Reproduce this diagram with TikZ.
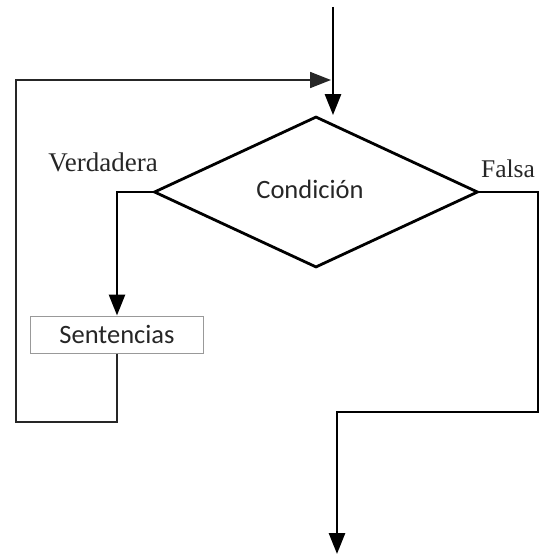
\documentclass[tikz,border=0pt]{standalone}
\usepackage{fontspec}
\setmainfont{Liberation Serif}
\newfontfamily\carlito{Carlito}
\usetikzlibrary{shapes.geometric,arrows.meta}
\begin{document}
\begin{tikzpicture}[x=1pt,y=-1pt,
  mainline/.style={line width=2.8pt,draw=black},
  loopline/.style={line width=1.8pt,draw=black!85},
  arr/.style={-{Triangle[width=16pt,length=21pt]}},
  decision/.style={diamond,draw=black,line width=2.8pt,inner sep=0pt,
    minimum width=324pt,minimum height=151pt,
    font=\carlito\fontsize{26.5}{30}\selectfont,text=black!85},
  stmtbox/.style={rectangle,draw=black!40,line width=1pt,inner sep=0pt,
    minimum width=173pt,minimum height=37pt,
    font=\carlito\fontsize{26.5}{30}\selectfont,text=black!85},
  lbl/.style={text=black!85,inner sep=0pt,anchor=base}]
\useasboundingbox (0,0) rectangle (542,559);
\coordinate (start) at (333,7);
\node[decision] (cond) at (316,192) {\raisebox{6pt}{Condición}\hspace*{12pt}};
\node[stmtbox] (sent) at (117,334.5) {Sentencias};
\coordinate (loopcorner) at (16,422);
\coordinate (loopend) at (331,80);
\coordinate (falsecorner) at (538,412);
\coordinate (finish) at (337,554);
\node[lbl,font=\fontsize{27}{30}\selectfont] (ltrue) at (103,171) {Verdadera};
\node[lbl,font=\fontsize{25.5}{30}\selectfont] (lfalse) at (508,177) {Falsa};
% entry
\draw[mainline,arr] (start) -- (start |- cond.north);
% true branch
\draw[mainline,arr] (cond.west) -| (sent.north);
% loop back
\draw[loopline,arr] (sent.south) |- (loopcorner) |- (loopend);
% false branch
\draw[mainline,arr] (cond.east) -| (falsecorner) -| (finish);
\end{tikzpicture}
\end{document}
